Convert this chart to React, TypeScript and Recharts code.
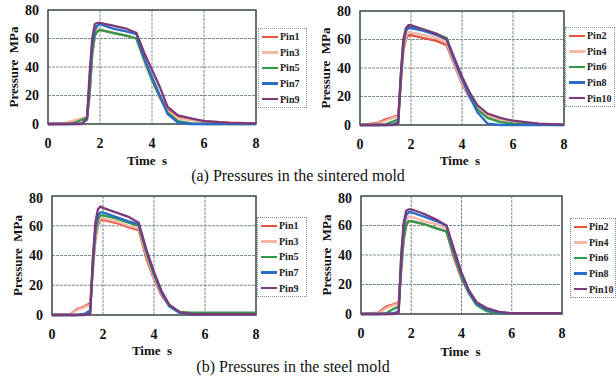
import React from 'react'
import { LineChart, Line, XAxis, YAxis, CartesianGrid, Legend, ReferenceArea } from 'recharts'

const FONT = '"Liberation Serif", "Times New Roman", Times, serif'

// time samples (s) shared by all curves
const TIME = [0, 0.7, 1.0, 1.3, 1.5, 1.6, 1.7, 1.8, 1.9, 2.0, 2.5, 3.0, 3.4, 3.7, 4.0, 4.3, 4.6, 5.0, 5.5, 6.0, 7.0, 8.0]
const X_TICKS = [0, 2, 4, 6, 8]
const Y_TICKS = [0, 20, 40, 60, 80]

// (a) sintered mold, MPa
const sinteredPin1 = [0, 0.5, 1.5, 3, 4, 20, 48, 62, 66, 66, 64, 62, 60, 46, 32, 20, 10, 5, 3, 2, 1, 0.5]
const sinteredPin3 = [0, 1, 2.5, 4, 5, 25, 50, 63, 66, 66, 64, 62, 60, 44, 30, 18, 9, 4, 2.5, 1.5, 0.8, 0.5]
const sinteredPin5 = [0, 0, 0.5, 3, 4.5, 22, 50, 62, 65, 66, 64, 62, 60, 45, 31, 19, 8, 2, 0.5, 0, 0, 0]
const sinteredPin7 = [0, 0, 0, 0.5, 3, 30, 55, 66, 69, 70, 67, 65, 63, 46, 33, 20, 7, 1, 0, 0, 0, 0]
const sinteredPin9 = [0, 0, 0, 0, 4, 35, 60, 70, 71, 71, 69, 67, 64, 50, 38, 26, 12, 6, 4, 2, 0.8, 0.5]

const sinteredPin2 = [0, 1.5, 4, 5.5, 7, 30, 52, 60, 63, 63, 61, 59, 56, 42, 29, 19, 12, 6, 3, 2, 0.8, 0.3]
const sinteredPin4 = [0, 1, 3, 5, 6, 30, 54, 62, 65, 65, 63, 61, 58, 43, 30, 20, 12, 6, 3, 2, 0.8, 0.3]
const sinteredPin6 = [0, 0, 0.5, 2.5, 4, 30, 56, 66, 69, 69, 67, 64, 61, 46, 33, 21, 11, 5, 2, 1, 0.2, 0]
const sinteredPin8 = [0, 0, 0, 0.5, 2, 35, 58, 66, 68, 68, 66, 63, 60, 45, 32, 20, 9, 1, 0, 0, 0, 0]
const sinteredPin10 = [0, 0, 0, 0, 1, 35, 60, 68, 70, 70, 67, 64, 60, 47, 34, 23, 14, 8, 5, 3, 1, 0.3]

// (b) steel mold, MPa
const steelPin1 = [0, 0.5, 4, 6, 8, 30, 50, 60, 64, 64, 62, 59, 57, 38, 24, 13, 6, 2, 1, 0.5, 0.5, 0.5]
const steelPin3 = [0, 0.5, 3.5, 5.5, 7, 30, 52, 62, 65, 65, 63, 60, 58, 40, 25, 14, 6, 2, 1, 0.5, 0.5, 0.5]
const steelPin5 = [0, 0, 0, 0.5, 3, 32, 55, 64, 67, 67, 65, 62, 60, 42, 27, 15, 6, 2, 1.5, 1.5, 1.5, 1.5]
const steelPin7 = [0, 0, 0, 1, 3, 35, 58, 67, 69, 69, 66, 63, 61, 43, 28, 15, 6, 1.5, 0.5, 0.5, 0.5, 0.5]
const steelPin9 = [0, 0, 0, 0, 1, 38, 62, 71, 73, 72, 69, 66, 62, 44, 29, 16, 7, 2, 0.5, 0.5, 0.5, 0.5]

const steelPin2 = [0, 1, 5, 6.5, 8, 30, 50, 60, 63, 63, 61, 58, 56, 38, 24, 14, 7, 3, 1, 0.5, 0.5, 0.5]
const steelPin4 = [0, 0.5, 4, 6, 7, 32, 54, 63, 66, 66, 63, 61, 58, 40, 25, 15, 7, 3, 1, 0.5, 0.5, 0.5]
const steelPin6 = [0, 0, 0.5, 3.5, 5, 30, 52, 61, 63, 63, 61, 58, 56, 40, 25, 14, 6, 2, 0.5, 0.5, 0.5, 0.5]
const steelPin8 = [0, 0, 0, 0.5, 2, 38, 60, 67, 69, 69, 66, 63, 60, 42, 27, 15, 7, 3, 1, 0.5, 0.5, 0.5]
const steelPin10 = [0, 0, 0, 0, 1, 40, 62, 70, 71, 71, 68, 64, 60, 44, 28, 16, 8, 4, 1.5, 0.5, 0.5, 0.5]

const COLORS = ['#e8533c', '#f7b6a6', '#2f9a48', '#2b6cc6', '#7b3b78']

type Series = { name: string; values: number[] }

function buildRows(series: Series[]) {
  return TIME.map((t, i) => {
    const row: Record<string, number> = { t }
    series.forEach((s) => (row[s.name] = s.values[i]))
    return row
  })
}

const boldSvg = { fontFamily: FONT, fontWeight: 'bold', fill: '#111' }
const tickStyle = { ...boldSvg, fontSize: 14 }

type PanelProps = {
  left: number
  top: number
  width: number
  yw: number
  mt: number
  mr: number
  xh: number
  legendTop: number
  legendGap: number
  legendW: number
  swatch: number
  yLabelX: number
  xLabelDx: number
  xLabelDy: number
  series: Series[]
}

function Panel(p: PanelProps) {
  const rows = buildRows(p.series)
  const order = p.series.map((s) => s.name)

  const yLabel = ({ viewBox }: any) => {
    const x = viewBox.x + p.yLabelX
    const y = viewBox.y + viewBox.height / 2
    return (
      <text x={x} y={y} transform={`rotate(-90, ${x}, ${y})`} textAnchor="middle" dy="0.35em" style={{ ...boldSvg, fontSize: 13 }}>
        {'Pressure\u00a0\u00a0MPa'}
      </text>
    )
  }

  const xLabel = ({ viewBox }: any) => (
    <text x={viewBox.x + viewBox.width / 2 + p.xLabelDx} y={viewBox.y + p.xLabelDy} textAnchor="middle" dy="0.35em"
      style={{ ...boldSvg, fontSize: 13 }}>
      {'Time\u00a0\u00a0s'}
    </text>
  )

  // keep the legend in series order (Pin10 last), not sorted by name
  const legend = ({ payload }: any) => {
    const items = [...(payload || [])].sort((a: any, b: any) => order.indexOf(a.value) - order.indexOf(b.value))
    return (
      <div style={{ marginLeft: p.legendGap, width: p.legendW, boxSizing: 'border-box', border: '1px dotted #7f9090',
        background: '#fff', fontFamily: FONT, fontWeight: 'bold', fontSize: 10, color: '#222' }}>
        {items.map((e: any) => (
          <div key={e.value} style={{ display: 'flex', alignItems: 'center', height: 15.6, whiteSpace: 'nowrap' }}>
            <span style={{ display: 'inline-block', width: p.swatch, height: 2.5, background: e.color, margin: '0 2px 0 3px' }} />
            {e.value}
          </div>
        ))}
      </div>
    )
  }

  return (
    <div style={{ position: 'absolute', left: p.left, top: p.top }}>
      <LineChart width={p.width} height={170} data={rows} margin={{ top: p.mt, right: p.mr, bottom: 0, left: 0 }}>
        <CartesianGrid stroke="#7c8b94" strokeDasharray="3 1" />
        <ReferenceArea x1={0} x2={8} y1={0} y2={80} fill="none" stroke="#44564c" strokeWidth={1.5} ifOverflow="visible" />
        <XAxis dataKey="t" type="number" domain={[0, 8]} ticks={X_TICKS} tickLine={false} axisLine={false}
          tickSize={0} tickMargin={14} height={p.xh} tick={tickStyle} label={xLabel} />
        <YAxis type="number" domain={[0, 80]} ticks={Y_TICKS} tickLine={false} axisLine={false}
          tickSize={0} tickMargin={9} width={p.yw} tick={tickStyle} label={yLabel} />
        <Legend layout="vertical" align="right" verticalAlign="top" content={legend} wrapperStyle={{ top: p.legendTop }} />
        {p.series.map((s, i) => (
          <Line key={s.name} dataKey={s.name} name={s.name} type="linear" stroke={COLORS[i]} strokeWidth={2.3}
            dot={false} activeDot={false} isAnimationActive={false} />
        ))}
      </LineChart>
    </div>
  )
}

export default function App() {
  return (
    <div style={{ position: 'absolute', left: 0, top: 0, width: 616, height: 392, background: '#fff', overflow: 'hidden' }}>
      <Panel left={0} top={0} width={308} yw={48} mt={10} mr={1} xh={46} legendTop={28} legendGap={2} legendW={49} swatch={16}
        yLabelX={13} xLabelDx={-5} xLabelDy={36}
        series={[
          { name: 'Pin1', values: sinteredPin1 },
          { name: 'Pin3', values: sinteredPin3 },
          { name: 'Pin5', values: sinteredPin5 },
          { name: 'Pin7', values: sinteredPin7 },
          { name: 'Pin9', values: sinteredPin9 },
        ]} />
      <Panel left={308} top={0} width={308} yw={52} mt={11} mr={1} xh={45} legendTop={27} legendGap={1} legendW={50} swatch={16}
        yLabelX={17} xLabelDx={-2} xLabelDy={35}
        series={[
          { name: 'Pin2', values: sinteredPin2 },
          { name: 'Pin4', values: sinteredPin4 },
          { name: 'Pin6', values: sinteredPin6 },
          { name: 'Pin8', values: sinteredPin8 },
          { name: 'Pin10', values: sinteredPin10 },
        ]} />
      <Panel left={0} top={190} width={308} yw={52} mt={6} mr={1} xh={45} legendTop={27} legendGap={1} legendW={50} swatch={16}
        yLabelX={17} xLabelDx={-2} xLabelDy={35}
        series={[
          { name: 'Pin1', values: steelPin1 },
          { name: 'Pin3', values: steelPin3 },
          { name: 'Pin5', values: steelPin5 },
          { name: 'Pin7', values: steelPin7 },
          { name: 'Pin9', values: steelPin9 },
        ]} />
      <Panel left={308} top={190} width={308} yw={53} mt={6} mr={0} xh={46} legendTop={28} legendGap={8} legendW={46} swatch={13}
        yLabelX={18} xLabelDx={-1} xLabelDy={37}
        series={[
          { name: 'Pin2', values: steelPin2 },
          { name: 'Pin4', values: steelPin4 },
          { name: 'Pin6', values: steelPin6 },
          { name: 'Pin8', values: steelPin8 },
          { name: 'Pin10', values: steelPin10 },
        ]} />
      <div style={{ position: 'absolute', left: 0, top: 167, width: 596, textAlign: 'center', fontFamily: FONT,
        fontSize: 16, lineHeight: '18px', color: '#111' }}>
        (a) Pressures in the sintered mold
      </div>
      <div style={{ position: 'absolute', left: 0, top: 358, width: 586, textAlign: 'center', fontFamily: FONT,
        fontSize: 16, lineHeight: '18px', color: '#111' }}>
        (b) Pressures in the steel mold
      </div>
    </div>
  )
}
